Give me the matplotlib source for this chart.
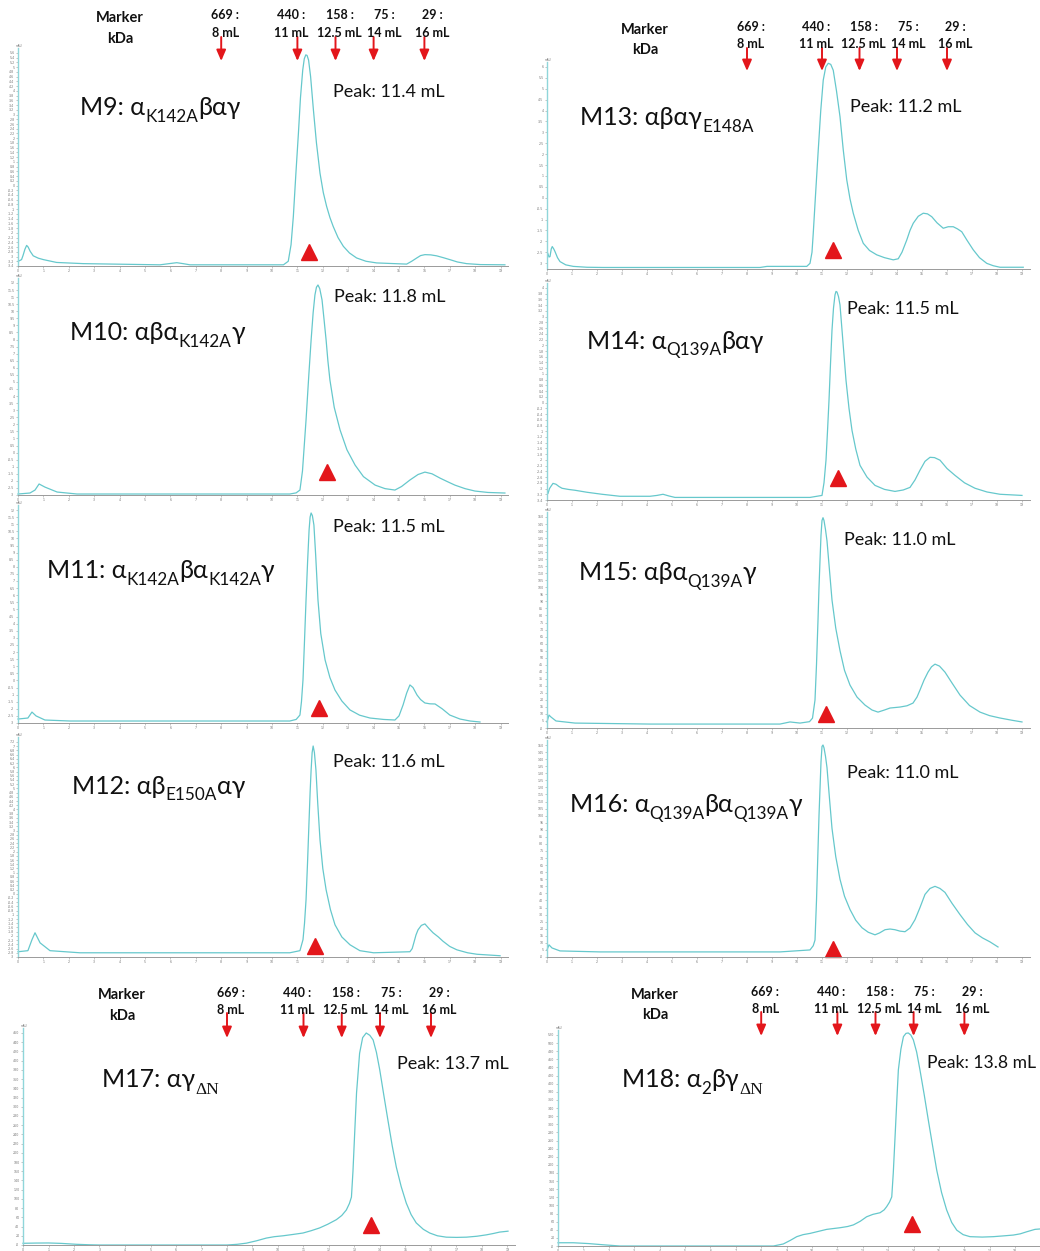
import numpy as np
import matplotlib
matplotlib.use("Agg")
import matplotlib.pyplot as plt

W, H = 1040, 1251
CURVE = "#66c8cc"
RED = "#e3161b"
SANS = ["Lato", "Noto Sans", "DejaVu Sans"]
SERIF = ["Liberation Serif", "DejaVu Serif"]

# ---------------- data ----------------
marker_kda = ["669 :", "440 :", "158 :", "75 :", "29 :"]
marker_ml = [8, 11, 12.5, 14, 16]
marker_ml_labels = ["8 mL", "11 mL", "12.5 mL", "14 mL", "16 mL"]

M9_x = [0.01, 0.14, 0.2, 0.27, 0.34, 0.4, 0.48, 0.6, 0.8, 1.0, 1.52, 2.57, 5.59, 5.95, 6.25, 6.5, 6.77,
        10.45, 10.64, 10.75, 10.84, 10.94, 11.04, 11.12, 11.21, 11.27, 11.33, 11.38, 11.44, 11.52, 11.63,
        11.75, 11.89, 12.02, 12.15, 12.28, 12.41, 12.6, 12.81, 13.05, 13.33, 13.7, 14.12, 15.3, 15.5,
        15.7, 15.85, 16.02, 16.25, 16.48, 16.75, 17.0, 17.3, 17.66, 18.2, 19.17]
M9_y = [-3.2, -3.13, -2.95, -2.7, -2.53, -2.6, -2.78, -2.97, -3.07, -3.13, -3.25, -3.3, -3.35, -3.3, -3.26, -3.3, -3.35,
        -3.35, -3.2, -2.5, -1.31, 0.5, 2.21, 3.7, 4.88, 5.35, 5.52, 5.5, 5.3, 4.6, 3.2,
        1.8, 0.52, -0.3, -0.88, -1.35, -1.73, -2.2, -2.57, -2.85, -3.06, -3.2, -3.27, -3.32, -3.2,
        -3.06, -2.96, -2.92, -2.93, -2.97, -3.05, -3.13, -3.23, -3.3, -3.34, -3.35]

M10_x = [0.0, 0.47, 0.67, 0.83, 1.06, 1.54, 2.32, 10.7, 10.95, 11.1, 11.2, 11.34, 11.45, 11.54, 11.62, 11.69,
         11.75, 11.81, 11.88, 11.97, 12.05, 12.13, 12.2, 12.28, 12.45, 12.68, 12.95, 13.27, 13.6, 14.06, 14.45,
         14.84, 15.1, 15.43, 15.75, 16.02, 16.3, 16.61, 16.9, 17.2, 17.6, 17.99, 18.5, 19.17]
M10_y = [-2.93, -2.86, -2.65, -2.22, -2.44, -2.79, -2.93, -2.93, -2.85, -2.65, -1.3, 2.3, 5.5, 7.97, 9.9, 11.15,
         11.7, 11.86, 11.6, 10.8, 9.4, 7.97, 6.5, 5.14, 3.2, 1.6, 0.2, -0.88, -1.7, -2.3, -2.55,
         -2.65, -2.4, -1.94, -1.55, -1.38, -1.5, -1.8, -2.05, -2.3, -2.55, -2.72, -2.82, -2.86]

M11_x = [0.0, 0.39, 0.55, 0.71, 1.06, 2.05, 10.7, 10.95, 11.1, 11.16, 11.22, 11.28, 11.34, 11.4, 11.46, 11.5,
         11.54, 11.59, 11.65, 11.72, 11.81, 11.92, 12.09, 12.28, 12.48, 12.75, 13.07, 13.45, 13.86, 14.4, 14.84,
         15.0, 15.16, 15.3, 15.43, 15.55, 15.71, 15.85, 16.02, 16.22, 16.42, 16.7, 17.0, 17.4, 17.8, 18.19]
M11_y = [-2.72, -2.65, -2.23, -2.5, -2.79, -2.86, -2.86, -2.75, -2.44, -1.5, 0.03, 2.8, 5.66, 8.3, 10.59, 11.5,
         11.79, 11.6, 10.94, 8.8, 5.66, 3.3, 1.44, 0.2, -0.68, -1.45, -2.08, -2.45, -2.65, -2.75, -2.79,
         -2.5, -1.73, -0.9, -0.32, -0.5, -1.03, -1.35, -1.59, -1.65, -1.66, -2.0, -2.44, -2.72, -2.86, -2.93]

M12_x = [0.0, 0.39, 0.55, 0.67, 0.87, 1.26, 2.44, 10.7, 11.1, 11.22, 11.28, 11.34, 11.4, 11.46, 11.5, 11.54,
         11.58, 11.62, 11.67, 11.73, 11.8, 11.89, 12.0, 12.13, 12.3, 12.48, 12.75, 13.07, 13.46, 14.0, 15.43,
         15.52, 15.59, 15.67, 15.75, 15.88, 16.02, 16.18, 16.34, 16.55, 16.73, 17.0, 17.28, 17.7, 18.07, 18.98]
M12_y = [-2.75, -2.7, -2.18, -1.85, -2.33, -2.7, -2.8, -2.8, -2.7, -2.18, -1.4, -0.29, 1.5, 3.5, 4.8, 5.87,
         6.7, 7.01, 6.7, 5.87, 4.3, 2.56, 1.2, 0.19, -0.75, -1.47, -2.05, -2.42, -2.7, -2.8, -2.75,
         -2.6, -2.3, -1.95, -1.71, -1.5, -1.43, -1.65, -1.85, -2.05, -2.25, -2.5, -2.66, -2.8, -2.87, -2.94]

M13_x = [0.03, 0.08, 0.12, 0.17, 0.21, 0.27, 0.32, 0.42, 0.52, 0.75, 1.05, 1.6, 2.25, 8.52, 8.8, 9.05, 10.39,
         10.52, 10.6, 10.65, 10.75, 10.85, 10.95, 11.05, 11.15, 11.25, 11.35, 11.45, 11.58, 11.72, 11.85, 11.99,
         12.12, 12.25, 12.45, 12.65, 12.9, 13.19, 13.5, 13.85, 14.05, 14.2, 14.39, 14.52, 14.65, 14.85, 15.05,
         15.22, 15.39, 15.6, 15.85, 16.05, 16.25, 16.42, 16.59, 16.8, 17.05, 17.3, 17.59, 17.85, 18.12, 19.05]
M13_y = [-2.55, -2.72, -2.7, -2.35, -2.24, -2.35, -2.47, -2.75, -2.93, -3.08, -3.15, -3.19, -3.2, -3.2, -3.15, -3.15, -3.15,
         -3.01, -2.5, -1.63, 0.3, 2.19, 4.0, 5.4, 6.0, 6.17, 6.12, 5.85, 4.9, 3.72, 2.2, 0.82,
         -0.05, -0.71, -1.5, -2.09, -2.42, -2.62, -2.75, -2.85, -2.8, -2.5, -1.94, -1.5, -1.17, -0.85, -0.71,
         -0.74, -0.87, -1.15, -1.4, -1.33, -1.33, -1.43, -1.56, -1.95, -2.39, -2.75, -3.01, -3.12, -3.19, -3.19]

M14_x = [0.04, 0.1, 0.16, 0.24, 0.36, 0.48, 0.6, 0.85, 1.12, 1.6, 2.2, 2.92, 4.12, 4.4, 4.64, 4.88, 5.12, 6.12,
         10.52, 11.0, 11.08, 11.16, 11.22, 11.28, 11.34, 11.4, 11.46, 11.52, 11.56, 11.6, 11.66, 11.72, 11.84,
         11.96, 12.08, 12.2, 12.35, 12.52, 12.8, 13.12, 13.5, 13.92, 14.25, 14.52, 14.72, 14.92, 15.12, 15.32,
         15.5, 15.72, 16.0, 16.32, 16.7, 17.12, 17.6, 18.12, 19.0]
M14_y = [-3.17, -3.0, -2.92, -2.82, -2.85, -2.93, -2.99, -3.03, -3.06, -3.13, -3.2, -3.27, -3.27, -3.24, -3.2, -3.26, -3.31, -3.31,
         -3.31, -3.24, -2.8, -2.01, -1.0, 0.08, 1.35, 2.53, 3.3, 3.76, 3.88, 3.86, 3.7, 3.41, 2.1,
         0.78, -0.2, -0.97, -1.62, -2.19, -2.6, -2.89, -3.03, -3.1, -3.05, -2.96, -2.7, -2.36, -2.05, -1.91,
         -1.92, -2.01, -2.3, -2.54, -2.8, -2.99, -3.12, -3.2, -3.24]

M15_x = [0.0, 0.08, 0.16, 0.36, 1.12, 4.12, 9.32, 9.72, 10.12, 10.5, 10.62, 10.72, 10.78, 10.84, 10.88, 10.92,
         10.96, 11.0, 11.04, 11.08, 11.14, 11.2, 11.3, 11.4, 11.55, 11.72, 11.9, 12.12, 12.4, 12.72, 13.0, 13.24,
         13.5, 13.72, 14.12, 14.4, 14.64, 14.8, 14.92, 15.08, 15.24, 15.38, 15.52, 15.7, 15.92, 16.2, 16.52,
         16.9, 17.32, 17.7, 18.12, 18.6, 19.0]
M15_y = [4.3, 9.2, 7.8, 5.0, 3.5, 2.8, 2.8, 4.3, 3.5, 4.5, 7, 19.9, 45, 76.6, 100, 119,
         137, 147.5, 149.5, 147.5, 141, 133, 112, 91, 71, 55, 41, 30.5, 22, 16.3, 12.8, 11.3,
         12.8, 14.2, 14.9, 15.8, 17.7, 22, 27, 34, 39.7, 43.5, 45.4, 44, 39.7, 32, 23.4,
         16, 11.3, 8.8, 7.1, 5.5, 4.3]

M16_x = [0.0, 0.08, 0.2, 0.52, 2.12, 9.32, 10.52, 10.65, 10.72, 10.78, 10.84, 10.88, 10.92, 10.96, 11.0, 11.04,
         11.08, 11.14, 11.2, 11.3, 11.4, 11.55, 11.72, 11.9, 12.12, 12.35, 12.6, 12.85, 13.12, 13.3, 13.52, 13.72,
         13.92, 14.12, 14.32, 14.52, 14.72, 14.92, 15.12, 15.32, 15.52, 15.72, 15.92, 16.2, 16.52, 16.82, 17.12,
         17.42, 17.72, 18.04]
M16_y = [5, 8.6, 6.4, 4.3, 3.6, 3.6, 5, 8, 12, 40, 76, 100, 119, 138, 149, 150,
         148, 142, 134, 112, 91, 71, 55, 43, 33.6, 26, 20.7, 17.5, 15.7, 17, 19.3, 19.8,
         19.3, 18.3, 17.9, 20.5, 26.4, 35, 44.3, 48.5, 50, 48.5, 45.7, 38, 30, 23, 17.1,
         13.5, 10.7, 7.1]

M17_x = [0.0, 0.5, 1.0, 1.5, 2.1, 2.6, 3.0, 8.0, 8.4, 8.76, 9.15, 9.54, 9.85, 10.2, 10.6, 10.98, 11.3, 11.63,
         11.95, 12.29, 12.5, 12.68, 12.8, 12.88, 12.94, 13.0, 13.08, 13.2, 13.32, 13.46, 13.6, 13.73, 13.86,
         13.99, 14.15, 14.31, 14.48, 14.64, 14.83, 15.03, 15.22, 15.42, 15.7, 15.95, 16.25, 16.6, 17.0, 17.39,
         17.8, 18.17, 18.45, 18.69, 19.02]
M17_y = [3.7, 4.2, 4.4, 3.5, 1.5, 0.5, 0, 0, 1.5, 4, 9, 15, 18, 20, 23, 26, 31, 37,
         45, 55, 64, 76, 90, 104, 160, 234, 330, 416, 450, 460, 455, 445, 418,
         380, 325, 271, 215, 169, 127, 91, 66, 48, 34, 26, 20, 17, 16.5, 17,
         19, 22, 25, 28, 30]

M18_x = [0.0, 0.6, 1.2, 1.78, 2.44, 8.48, 8.87, 9.15, 9.4, 9.65, 9.92, 10.25, 10.58, 11.1, 11.4, 11.63, 11.9,
         12.15, 12.4, 12.68, 12.84, 12.94, 13.05, 13.14, 13.2, 13.27, 13.34, 13.4, 13.5, 13.6, 13.7, 13.79, 13.89,
         13.99, 14.12, 14.25, 14.42, 14.58, 14.75, 14.91, 15.1, 15.3, 15.5, 15.7, 15.95, 16.22, 16.7, 17.14,
         17.55, 17.93, 18.2, 18.45, 18.78, 18.98]
M18_y = [8, 8, 6, 3, 0, 0, 5, 14, 23, 28, 31, 36, 41, 45, 48, 52, 61,
         72, 78, 82, 89, 97, 108, 121, 180, 269, 360, 434, 485, 516, 524, 525, 520,
         508, 478, 434, 372, 310, 246, 187, 132, 89, 58, 39, 28, 23, 22, 23,
         25, 27, 30, 35, 41, 42]

peak_ml = {"M9": 11.46, "M10": 12.17, "M11": 11.85, "M12": 11.7, "M13": 11.44,
           "M14": 11.64, "M15": 11.16, "M16": 11.44, "M17": 13.66, "M18": 13.94}
peak_y = {"M9": -2.8, "M10": -1.38, "M11": -1.94, "M12": -2.47, "M13": -2.39,
          "M14": -2.64, "M15": 10, "M16": 5.7, "M17": 43, "M18": 54}
peak_labels = {"M9": "Peak: 11.4 mL", "M10": "Peak: 11.8 mL", "M11": "Peak: 11.5 mL",
               "M12": "Peak: 11.6 mL", "M13": "Peak: 11.2 mL", "M14": "Peak: 11.5 mL",
               "M15": "Peak: 11.0 mL", "M16": "Peak: 11.0 mL", "M17": "Peak: 13.7 mL",
               "M18": "Peak: 13.8 mL"}
titles = {
    "M9": [("M9: α", "m"), ("K142A", "s"), ("βαγ", "m")],
    "M10": [("M10: αβα", "m"), ("K142A", "s"), ("γ", "m")],
    "M11": [("M11: α", "m"), ("K142A", "s"), ("βα", "m"), ("K142A", "s"), ("γ", "m")],
    "M12": [("M12: αβ", "m"), ("E150A", "s"), ("αγ", "m")],
    "M13": [("M13: αβαγ", "m"), ("E148A", "s")],
    "M14": [("M14: α", "m"), ("Q139A", "s"), ("βαγ", "m")],
    "M15": [("M15: αβα", "m"), ("Q139A", "s"), ("γ", "m")],
    "M16": [("M16: α", "m"), ("Q139A", "s"), ("βα", "m"), ("Q139A", "s"), ("γ", "m")],
    "M17": [("M17: αγ", "m"), ("ΔN", "d")],
    "M18": [("M18: α", "m"), ("2", "s"), ("βγ", "m"), ("ΔN", "d")],
}
curves = {"M9": (M9_x, M9_y), "M10": (M10_x, M10_y), "M11": (M11_x, M11_y),
          "M12": (M12_x, M12_y), "M13": (M13_x, M13_y), "M14": (M14_x, M14_y),
          "M15": (M15_x, M15_y), "M16": (M16_x, M16_y), "M17": (M17_x, M17_y),
          "M18": (M18_x, M18_y)}

# ---------------- layout (pixels) ----------------
layout = {
    "M9":  dict(x0=18, ppm=25.4, top=53, bot=266, ylo=-3.4, yhi=5.6, step=0.2),
    "M10": dict(x0=18, ppm=25.4, top=283, bot=495, ylo=-3, yhi=12, step=0.5),
    "M11": dict(x0=18, ppm=25.4, top=510, bot=723, ylo=-3, yhi=12, step=0.5),
    "M12": dict(x0=18, ppm=25.4, top=742, bot=957, ylo=-3, yhi=7.2, step=0.2),
    "M13": dict(x0=547, ppm=25.0, top=67, bot=269, ylo=-3.27, yhi=6, step=0.5),
    "M14": dict(x0=547, ppm=25.0, top=288, bot=500, ylo=-3.4, yhi=4, step=0.2),
    "M15": dict(x0=547, ppm=25.0, top=517, bot=728, ylo=0, yhi=150, step=5),
    "M16": dict(x0=547, ppm=25.0, top=745, bot=957, ylo=0, yhi=150, step=5),
    "M17": dict(x0=23, ppm=25.5, top=1033, bot=1245, ylo=0, yhi=460, step=20),
    "M18": dict(x0=558, ppm=25.4, top=1035, bot=1246, ylo=0, yhi=520, step=20),
}
title_pos = {"M9": (80, 115), "M10": (70, 340), "M11": (47, 578), "M12": (72, 794),
             "M13": (580, 125), "M14": (587, 349), "M15": (579, 580), "M16": (570, 812),
             "M17": (102, 1087), "M18": (622, 1087)}
peak_pos = {"M9": (333, 92), "M10": (334, 297), "M11": (333, 527), "M12": (333, 762),
            "M13": (850, 107), "M14": (847, 309), "M15": (844, 540), "M16": (847, 773),
            "M17": (397, 1064), "M18": (927, 1063)}
headers = [("M9", 15, 33, 37, 61, 120, 18, 39),
           ("M13", 27, 44, 48, 71, 645, 30, 50),
           ("M17", 993, 1010, 1013, 1038, 122, 995, 1016),
           ("M18", 992, 1009, 1012, 1036, 655, 995, 1015)]
label_dx = [4, -6, 4, 11, 8]
XMAX = 19.3

fig = plt.figure(figsize=(W / 100, H / 100), dpi=100)
fig.patch.set_facecolor("white")

axes = {}
for name, L in layout.items():
    ppu = (L["bot"] - L["top"]) / (L["yhi"] - L["ylo"])
    top_ext = 5
    yhi_ext = L["yhi"] + top_ext / ppu
    ax = fig.add_axes([L["x0"] / W, 1 - L["bot"] / H, XMAX * L["ppm"] / W,
                       (L["bot"] - L["top"] + top_ext) / H])
    ax.set_xlim(0, XMAX)
    ax.set_ylim(L["ylo"], yhi_ext)
    ax.patch.set_alpha(0)
    for s in ("top", "right"):
        ax.spines[s].set_visible(False)
    ax.spines["left"].set_color("#8fd6da")
    ax.spines["left"].set_linewidth(1.0)
    ax.spines["bottom"].set_color("#9a9a9a")
    ax.spines["bottom"].set_linewidth(0.7)
    start = np.ceil(L["ylo"] / L["step"] - 1e-6) * L["step"]
    yt = np.arange(start, L["yhi"] + 1e-9, L["step"])
    ax.set_yticks(yt)
    ax.set_yticklabels([("%g" % round(v, 2)) for v in yt])
    # only ticks that fall inside the picture
    xt = [v for v in range(0, 20) if L["x0"] + v * L["ppm"] < W - 3]
    ax.set_xticks(xt)
    ax.tick_params(axis="both", labelsize=2.3, labelcolor="#777777", color="#999999",
                   length=1.5, width=0.4, pad=1)
    ax.text(-0.004, 1.0, "mAU", transform=ax.transAxes, fontsize=2, color="#777777",
            ha="left", va="bottom")
    cx, cy = curves[name]
    ax.plot(cx, cy, color=CURVE, lw=0.9, clip_on=False, solid_joinstyle="round")
    ax.plot([peak_ml[name]], [peak_y[name]], ls="", marker="^", color=RED,
            markersize=11, clip_on=False)
    axes[name] = ax

for name, yk, ym, ytail, ytip, mx, my1, my2 in headers:
    ax = axes[name]
    for i, ml in enumerate(marker_ml):
        ax.annotate("", xy=(ml, H - ytip), xytext=(ml, H - ytail),
                    xycoords=("data", "figure pixels"), textcoords=("data", "figure pixels"),
                    arrowprops=dict(arrowstyle="-|>,head_width=0.28,head_length=0.65",
                                    color=RED, lw=1.4, shrinkA=0, shrinkB=0))
        for txt, yy in ((marker_kda[i], yk), (marker_ml_labels[i], ym)):
            ax.annotate(txt, xy=(ml, H - yy), xycoords=("data", "figure pixels"),
                        xytext=(label_dx[i], 0), textcoords="offset pixels", ha="center",
                        va="center", fontsize=9, fontweight="bold", family=SANS,
                        color="#111111")
    fig.text(mx / W, 1 - my1 / H, "Marker", ha="center", va="center", fontsize=10.5,
             fontweight="bold", family=SANS, color="#111111")
    fig.text(mx / W, 1 - my2 / H, "kDa", ha="center", va="center", fontsize=10.5,
             fontweight="bold", family=SANS, color="#111111")

renderer = fig.canvas.get_renderer()
seg_style = {"m": (18, 0, SANS), "s": (12.3, 6.5, SANS), "d": (12.5, 7, SERIF)}
for name, segs in titles.items():
    x, y = title_pos[name]
    for s, kind in segs:
        size, dy, fam = seg_style[kind]
        t = fig.text(x / W, 1 - (y + dy) / H, s, fontsize=size, family=fam,
                     ha="left", va="baseline", color="#111111")
        x += t.get_window_extent(renderer=renderer).width

for name, (px, py) in peak_pos.items():
    fs = 12.6 if name == "M18" else 13
    fig.text(px / W, 1 - py / H, peak_labels[name], fontsize=fs, family=SANS,
             ha="left", va="center", color="#111111")

fig.savefig("out.png", dpi=100, facecolor="white")
